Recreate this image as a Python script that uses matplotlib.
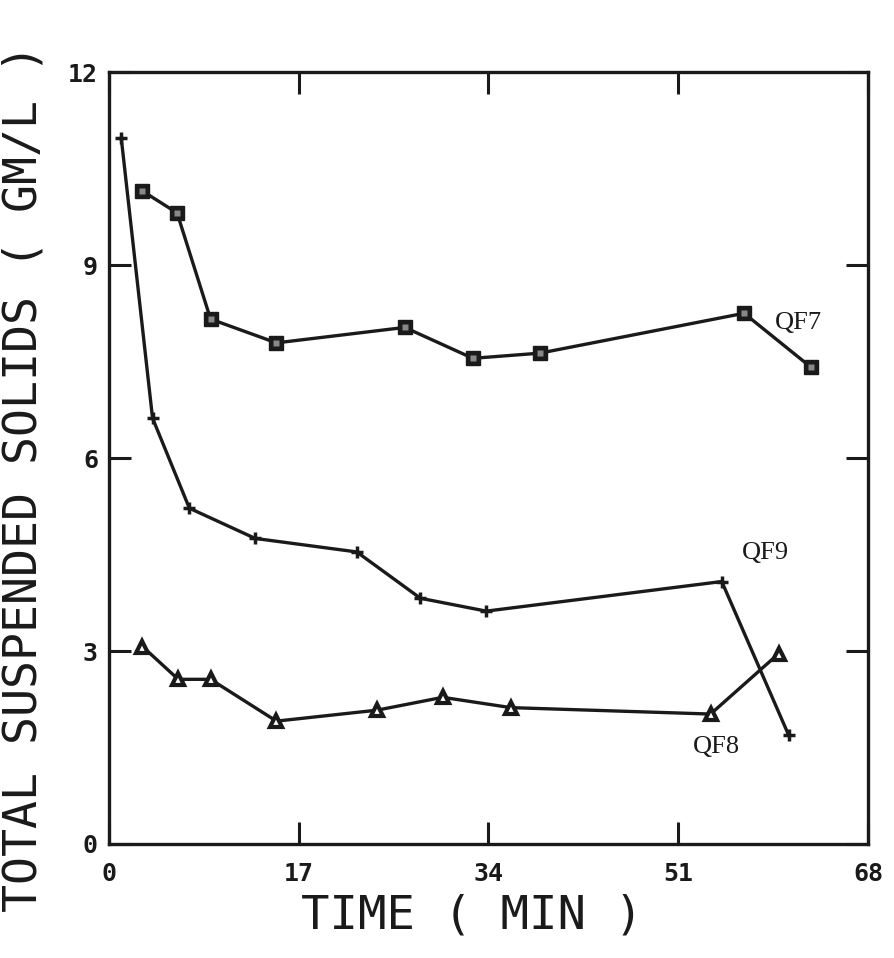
import numpy as np
import matplotlib
matplotlib.use("Agg")
import matplotlib.pyplot as plt

# suspended solids over time for three runs
t_qf7 = [3.0, 6.1, 9.1, 15.0, 26.5, 32.6, 38.6, 56.9, 62.9]
tss_qf7 = [10.15, 9.81, 8.16, 7.79, 8.03, 7.55, 7.63, 8.25, 7.41]

t_qf9 = [1.1, 3.9, 7.2, 13.1, 22.2, 27.9, 33.8, 54.9, 60.9]
tss_qf9 = [10.97, 6.62, 5.22, 4.75, 4.54, 3.82, 3.62, 4.08, 1.69]

t_qf8 = [3.0, 6.2, 9.1, 15.0, 24.0, 29.9, 36.0, 53.9, 60.0]
tss_qf8 = [3.07, 2.56, 2.56, 1.91, 2.08, 2.28, 2.12, 2.02, 2.96]

xticks = [0, 17, 34, 51, 68]
yticks = [0, 3, 6, 9, 12]

fig = plt.figure(figsize=(8.95, 9.58), dpi=100)
ax = fig.add_axes([0.1218, 0.119, 0.848, 0.8058])

ink = '#1a1a1a'
lw = 2.4
ax.plot(t_qf7, tss_qf7, '-', color=ink, lw=lw, marker='s', ms=10,
        mfc=ink, mec=ink)
ax.plot(t_qf7, tss_qf7, 's', ms=4, mfc='#888888', mec='none')
ax.plot(t_qf9, tss_qf9, '-', color=ink, lw=lw, marker='+', ms=9, mew=2.5)
ax.plot(t_qf8, tss_qf8, '-', color=ink, lw=lw, marker='^', ms=9,
        mfc='white', mec=ink, mew=3)

serif = dict(family='Liberation Serif', fontsize=19, color=ink)
ax.text(t_qf7[-2] + 2.8, tss_qf7[-2] - 0.25, 'QF7', **serif)
ax.text(t_qf9[-2] + 1.8, tss_qf9[-2] + 0.35, 'QF9', **serif)
ax.text(t_qf8[-2] - 1.6, tss_qf8[-2] - 0.6, 'QF8', **serif)

ax.set_xlim(0, 68)
ax.set_ylim(0, 12)
ax.set_xticks(xticks)
ax.set_yticks(yticks)
ax.tick_params(direction='in', length=16, width=2.2, top=True, right=True,
               labelsize=18, colors=ink)
ax.tick_params(axis='y', pad=8)
ax.tick_params(axis='x', pad=13)
for lab in ax.get_xticklabels() + ax.get_yticklabels():
    lab.set_family('DejaVu Sans Mono')
    lab.set_fontweight('bold')
for sp in ax.spines.values():
    sp.set_linewidth(2.4)
    sp.set_color(ink)

fig.text(472 / 895, 1 - 916 / 958, 'TIME ( MIN )', family='DejaVu Sans Mono',
         fontsize=34, color=ink, ha='center', va='center')
fig.text(24 / 895, 1 - 478 / 958, 'TOTAL SUSPENDED SOLIDS ( GM/L )',
         family='DejaVu Sans Mono', fontsize=33.5, color=ink,
         rotation=90, ha='center', va='center')

fig.savefig('out.png', dpi=100)
